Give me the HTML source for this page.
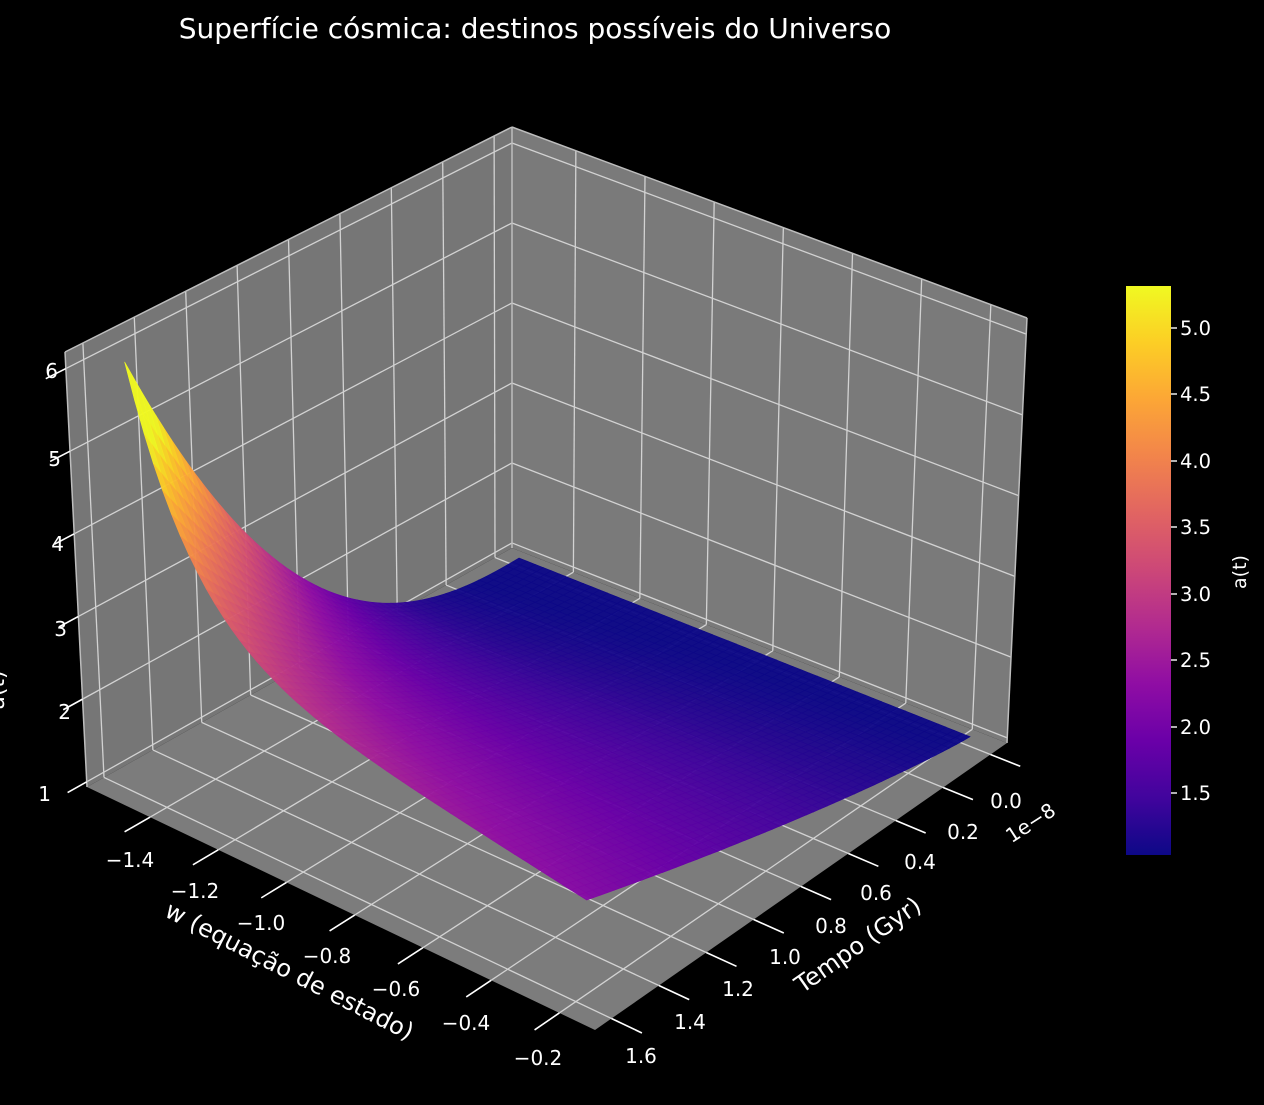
<!DOCTYPE html>
<html><head><meta charset="utf-8"><style>
html,body{margin:0;padding:0;background:#000;}
svg{display:block;}
text{font-family:"DejaVu Sans","Liberation Sans",sans-serif;fill:#fff;}
</style></head><body>
<svg id="s" width="1264" height="1105" viewBox="0 0 1264 1105" xmlns="http://www.w3.org/2000/svg">
<defs>
<linearGradient id="cb" x1="0" y1="1" x2="0" y2="0">
<stop offset="0" stop-color="#0d0887"/><stop offset="0.1" stop-color="#41049d"/><stop offset="0.2" stop-color="#6a00a8"/><stop offset="0.3" stop-color="#8f0da4"/><stop offset="0.4" stop-color="#b12a90"/><stop offset="0.5" stop-color="#cc4778"/><stop offset="0.6" stop-color="#e16462"/><stop offset="0.7" stop-color="#f2844b"/><stop offset="0.8" stop-color="#fca636"/><stop offset="0.9" stop-color="#fcce25"/><stop offset="1" stop-color="#f0f921"/>
</linearGradient>
</defs>
<rect width="1264" height="1105" fill="#000"/>
<g id="panes"></g>
<g id="surf"></g>
<g id="ticks" stroke="#fff" stroke-width="1.6"></g>
<text x="535" y="38" font-size="28" text-anchor="middle">Superfície cósmica: destinos possíveis do Universo</text>
<g font-size="20" text-anchor="end">
<text x="58" y="378">6</text><text x="61" y="466">5</text><text x="64" y="551">4</text><text x="67" y="636">3</text><text x="71" y="719">2</text><text x="51" y="801">1</text>
</g>
<g font-size="20" text-anchor="middle">
<text x="130" y="867">−1.4</text><text x="195" y="898">−1.2</text><text x="261" y="930">−1.0</text><text x="327" y="963">−0.8</text><text x="396" y="996">−0.6</text><text x="466" y="1030">−0.4</text><text x="538" y="1065">−0.2</text>
<text x="1006" y="808">0.0</text><text x="963" y="839">0.2</text><text x="920" y="869">0.4</text><text x="876" y="900">0.6</text><text x="831" y="933">0.8</text><text x="785" y="964">1.0</text><text x="738" y="996">1.2</text><text x="690" y="1029">1.4</text><text x="641" y="1063">1.6</text>
</g>
<text x="289" y="979" font-size="24" text-anchor="middle" transform="rotate(27 289 972)">w (equação de estado)</text>
<text x="858" y="953" font-size="24" text-anchor="middle" transform="rotate(-35 858 945)">Tempo (Gyr)</text>
<text x="1030" y="830" font-size="20" text-anchor="middle" transform="rotate(-33 1030 822)">1e−8</text>
<text x="4" y="690" font-size="22" text-anchor="middle" transform="rotate(-90 4 690)">a(t)</text>
<rect x="1126" y="286" width="45" height="569" fill="url(#cb)"/>
<g stroke="#fff" stroke-width="1.4">
<line x1="1171" y1="328" x2="1177" y2="328"/><line x1="1171" y1="394" x2="1177" y2="394"/><line x1="1171" y1="461" x2="1177" y2="461"/><line x1="1171" y1="527" x2="1177" y2="527"/><line x1="1171" y1="594" x2="1177" y2="594"/><line x1="1171" y1="660" x2="1177" y2="660"/><line x1="1171" y1="727" x2="1177" y2="727"/><line x1="1171" y1="793" x2="1177" y2="793"/>
</g>
<g font-size="19.5">
<text x="1180" y="335">5.0</text><text x="1180" y="401">4.5</text><text x="1180" y="468">4.0</text><text x="1180" y="534">3.5</text><text x="1180" y="601">3.0</text><text x="1180" y="667">2.5</text><text x="1180" y="734">2.0</text><text x="1180" y="800">1.5</text>
</g>
<text x="1246" y="572" font-size="19" text-anchor="middle" transform="rotate(-90 1246 572)">a(t)</text>
</svg>
<script>
(function(){
var NS="http://www.w3.org/2000/svg";
var B=[512,548],R=[1007,743],L=[87,787],Fr=[595,1030];
var VB=[0,-421],VR=[20,-425],VL=[-22,-435],VF=[3,-455];
function bl(a,b,c,d,s,r){return [(1-s)*(1-r)*a[0]+s*(1-r)*b[0]+(1-s)*r*c[0]+s*r*d[0],(1-s)*(1-r)*a[1]+s*(1-r)*b[1]+(1-s)*r*c[1]+s*r*d[1]];}
function P(s,r,h){var f=bl(B,R,L,Fr,s,r),v=bl(VB,VR,VL,VF,s,r);return [f[0]+h*v[0],f[1]+h*v[1]];}
function el(tag,attrs,parent){var e=document.createElementNS(NS,tag);for(var k in attrs)e.setAttribute(k,attrs[k]);parent.appendChild(e);return e;}
function pts(a){return a.map(function(p){return p[0].toFixed(1)+","+p[1].toFixed(1);}).join(" ");}
var panes=document.getElementById("panes");
el("polygon",{points:pts([P(0,1,0),P(0,1,1),P(0,0,1),P(0,0,0)]),fill:"#767676"},panes);
el("polygon",{points:pts([P(0,0,0),P(0,0,1),P(1,0,1),P(1,0,0)]),fill:"#7a7a7a"},panes);
el("polygon",{points:pts([P(0,1,0),P(0,0,0),P(1,0,0),P(1,1,0)]),fill:"#7c7c7c"},panes);
var gs={stroke:"#d2d2d2","stroke-width":1.3,fill:"none"};
function line(a,b,par,att){var o={x1:a[0],y1:a[1],x2:b[0],y2:b[1]};for(var k in att)o[k]=att[k];el("line",o,par);}
var sT=[],rT=[],hT=[];
for(var i=0;i<7;i++)sT.push(0.124+i*0.1343);
for(var j=0;j<9;j++)rT.push(0.04+j*0.115);
for(var k=0;k<6;k++)hT.push(0.012+k*0.19);
sT.forEach(function(s){line(P(s,0,0),P(s,1,0),panes,gs);});
rT.forEach(function(r){line(P(0,r,0),P(1,r,0),panes,gs);});
rT.forEach(function(r){line(P(0,r,0),P(0,r,1),panes,gs);});
hT.forEach(function(h){line(P(0,0,h),P(0,1,h),panes,gs);});
sT.forEach(function(s){line(P(s,0,0),P(s,0,1),panes,gs);});
hT.forEach(function(h){line(P(0,0,h),P(1,0,h),panes,gs);});
var es={stroke:"#bdbdbd","stroke-width":1.5};
line(P(0,0,0),P(0,0,1),panes,es);line(P(0,0,1),P(0,1,1),panes,es);line(P(0,0,1),P(1,0,1),panes,es);
line(P(0,1,0),P(0,1,1),panes,es);line(P(1,0,0),P(1,0,1),panes,es);
var tk=document.getElementById("ticks");
sT.forEach(function(s){line(P(s,1.0,0),P(s,1.06,0),tk,{});});
rT.forEach(function(r){line(P(1.0,r,0),P(1.06,r,0),tk,{});});
hT.forEach(function(h){line(P(0,1.0,h),P(0,1.045,h),tk,{});});
var stops=[[13,8,135],[65,4,157],[106,0,168],[143,13,164],[177,42,144],[204,71,120],[225,100,98],[242,132,75],[252,166,54],[252,206,37],[240,249,33]];
function cmap(t){t=Math.max(0,Math.min(1,t));var x=t*10,i=Math.min(9,Math.floor(x)),f=x-i,a=stops[i],b=stops[i+1];
return "rgb("+Math.round(a[0]+(b[0]-a[0])*f)+","+Math.round(a[1]+(b[1]-a[1])*f)+","+Math.round(a[2]+(b[2]-a[2])*f)+")";}
function zval(ss,rr){var A=1.2+0.8*(1-ss)+3.2*Math.exp(-ss/0.13);var q=1.1+1.3*Math.exp(-ss/0.4);return 1+A*Math.pow(rr,q);}
var N=56,quads=[];
for(var a=0;a<N;a++)for(var b=0;b<N;b++){
 var c=[[a,b],[a+1,b],[a+1,b+1],[a,b+1]];
 var pp=[],zs=0;
 c.forEach(function(q){var ss=q[0]/N,rr=q[1]/N;var z=zval(ss,rr);zs+=z;
  var s=0.04+0.91*ss,r=0.03+0.93*rr;var p=P(s,r,(z-1)/5.19*0.963+0.012);p[0]+=20*rr*(1-ss);pp.push(p);});
 quads.push({d:(a+b),p:pp,z:zs/4});
}
quads.sort(function(x,y){return x.d-y.d;});
var sf=document.getElementById("surf");
quads.forEach(function(q){var col=cmap((q.z-1.03)/(5.32-1.03));
 el("polygon",{points:pts(q.p),fill:col,stroke:col,"stroke-width":0.6,"fill-opacity":0.96},sf);});
})();
</script>
</body></html>
